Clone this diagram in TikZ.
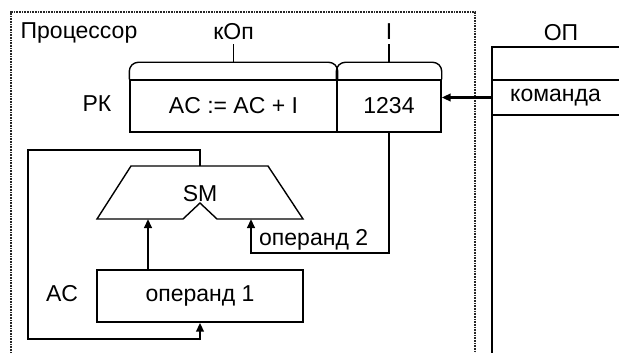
\documentclass[tikz,border=0pt]{standalone}
\usepackage{fontspec}
\setmainfont{Liberation Sans}
\usetikzlibrary{arrows.meta}
\tikzset{
    reg/.style={draw, line width=1.4pt, minimum height=52pt, inner sep=0pt},
    lbl/.style={inner sep=0pt},
    wire/.style={line width=1.4pt},
    bus/.style={line width=2.8pt},
    frame/.style={black!85, line width=1.5pt, densely dotted, dash pattern=on 1pt off 0.6pt}
}
\begin{document}
\begin{tikzpicture}[x=1pt, y=-1pt, >={Triangle[length=9pt,width=7.5pt]},
        font=\fontsize{23}{27}\selectfont]
            \useasboundingbox (0,0) rectangle (619,353);
            % Processor and memory
            \draw[frame] (11,353) -- (11,12) -- (475,12) -- (475,353);
            \node[lbl] (cpu) at (79,33) {Процессор};
            \draw[wire] (492,353) -- (492,47) -- (619,47);
            \draw[wire] (492,80) -- (619,80);
            \draw[wire] (492,115) -- (619,115);
            \node[lbl] (op) at (561,33) {ОП};
            \node[lbl, minimum width=127pt, minimum height=35pt] (cmd) at (555.5,97.5) {команда};
            % Instruction register
            \node[reg, minimum width=207pt] (kop) at (233.5,106) {AC := AC + I};
            \node[reg, minimum width=104pt] (addr) at (389,106) {1234};
            \node[lbl] (rk) at (97,104) {РК};
            \draw[wire, rounded corners=9pt] (kop.north west) -- ++(0,-17) -- ([yshift=17pt]kop.north east) -- (kop.north east);
            \draw[wire, rounded corners=9pt] (addr.north west) -- ++(0,-17) -- ([yshift=17pt]addr.north east) -- (addr.north east);
            \foreach \f/\t in {kop/кОп, addr/I} {
                    \coordinate (\f-tick) at ([yshift=17pt]\f.north);
                    \draw[wire] (\f-tick) -- ++(0,-18) node[lbl, above=4pt] (\f-name) {\t};
                }
            \draw[bus, ->] (cmd.west) -- (addr.east |- cmd.west);
            % Adder
            \coordinate (sm-top) at (200,166);
            \draw[wire] (97,219) -- (131,166) -- (268,166) -- (303,219) -- (217,219) -- (200,203) -- (183,219) -- cycle;
            \node[lbl] (sm) at (200,194) {SM};
            % Accumulator
            \node[reg, minimum width=206pt] (acc) at (200,296) {операнд 1};
            \node[lbl] (ac) at (62,294) {AC};
            \draw[bus, ->] (acc.north -| 148,0) -- (148,219);
            % Operand 2 and feedback
            \draw[wire] (addr.south) -- (389,253) -- (251,253);
            \draw[bus, ->] (251,254) -- (251,219);
            \node[lbl, anchor=west] (opd) at (259,240) {операнд 2};
            \draw[wire] (sm-top) -- (200,150) -- (28,150) -- (28,339) -- (200,339);
            \draw[bus, ->] (200,340) -- (acc.south);
        \end{tikzpicture}
\end{document}
